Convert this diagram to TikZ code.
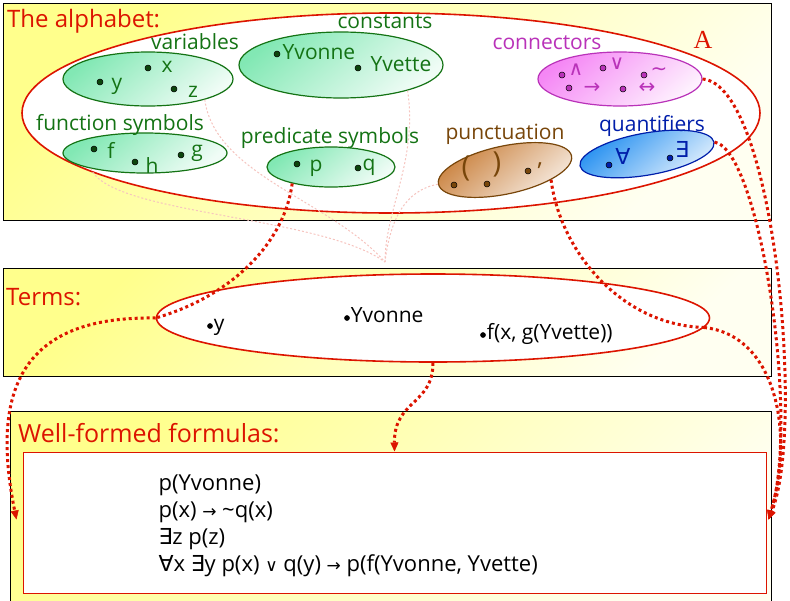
\documentclass[tikz,border=0pt]{standalone}
\usepackage{fontspec}
\setmainfont{Open Sans}
\newfontfamily\symfont{DejaVu Sans}
\newfontfamily\serfont{Liberation Serif}
\usetikzlibrary{arrows.meta}
\usetikzlibrary{calc}
\usetikzlibrary{shapes.geometric}

\definecolor{alpred}{RGB}{220,20,0}
\definecolor{panelyel}{RGB}{255,255,140}
\definecolor{grn}{RGB}{20,115,20}
\definecolor{grnfill}{RGB}{130,232,180}
\definecolor{mag}{RGB}{185,50,185}
\definecolor{magfill}{RGB}{245,135,245}
\definecolor{brn}{RGB}{120,70,10}
\definecolor{brnfill}{RGB}{200,125,55}
\definecolor{blu}{RGB}{0,30,170}
\definecolor{blufill}{RGB}{30,140,240}

\newcommand\opsym[1]{{\symfont\fontsize{17}{17}\selectfont #1}}

\tikzset{
  panel/.style={draw=black,line width=.8pt,top color=panelyel,bottom color=panelyel!12,shading angle=45},
  bigset/.style={ellipse,draw=alpred,line width=1.6pt,fill=white,inner sep=0pt},
  subset/.style 2 args={ellipse,draw=#1,line width=1.2pt,top color=#2,bottom color=#2!12,shading angle=40,inner sep=0pt},
  dotmark/.style={circle,draw=black,fill=#1,inner sep=0pt,minimum size=6pt,line width=.5pt},
  item/.style={inner sep=1pt},
  flow/.style={draw=alpred,line width=3pt,dash pattern=on 3pt off 3pt},
  flowtip/.style={flow,-{Triangle[length=9pt,width=8pt,line width=.5pt]}},
  ghost/.style={draw=alpred!25,line width=1pt,dash pattern=on 2pt off 2pt},
  head/.style={text=alpred,font=\fontsize{24}{26}\selectfont,anchor=west,inner sep=0pt}
}

\begin{document}
\begin{tikzpicture}[x=1pt,y=-1pt,font=\fontsize{21}{23}\selectfont]
\useasboundingbox (0,0) rectangle (790,600);

% the three panels
\draw[panel] (3,3) rectangle (771,220);
\draw[panel] (3,268) rectangle (771,376);
\draw[panel] (10,411) rectangle (771,612);

% alphabet
\node[bigset,minimum width=738pt,minimum height=200pt] (alph) at (391,113) {};
\node[head] (alphlbl) at (7,21) {The alphabet:};
\node[text=alpred,font=\serfont\fontsize{26}{26}\selectfont] (alphA) at (703,40) {A};

\coordinate (gmeet) at (385,262);

\node[subset={grn}{grnfill},minimum width=170pt,minimum height=54pt] (vars) at (148,79) {};
\node[subset={grn}{grnfill},minimum width=204pt,minimum height=66pt] (consts) at (341,65) {};
\node[subset={grn}{grnfill},minimum width=164pt,minimum height=40pt] (funcs) at (145,153) {};
\node[subset={grn}{grnfill},minimum width=128pt,minimum height=40pt] (preds) at (331,167) {};
\node[subset={brn}{brnfill},minimum width=136pt,minimum height=48pt,rotate=12] (punct) at (505,170) {};
\node[subset={mag}{magfill},minimum width=164pt,minimum height=54pt] (conns) at (620,79) {};
\node[subset={blu}{blufill},minimum width=136pt,minimum height=42pt,rotate=10] (quants) at (647,154) {};

% faint traces
\draw[ghost] (vars.-20) .. controls (215,175) and (330,200) .. (gmeet);
\draw[ghost] (funcs.196) .. controls (110,215) and (320,215) .. (gmeet);
\draw[ghost] (consts.-21) .. controls (418,160) and (385,210) .. (gmeet);
\draw[ghost] (punct.west) .. controls (405,190) and (390,220) .. (gmeet);

\foreach \n/\x/\y/\c/\t in {lvars/195/42/grn/variables, lconsts/385/22/grn/constants,
    lfuncs/120/125/grn/function symbols, lpreds/330/138/grn/predicate symbols,
    lpunct/505/134/brn/punctuation, lconns/547/43/mag/connectors, lquants/652/126/blu/quantifiers}
  \node[text=\c,inner sep=1pt] (\n) at (\x,\y) {\t};

\foreach \n/\x/\y/\tx/\ty/\t in {x/148/68/167/67/x, y/100/82/117/86/y, z/174/89/193/92/z,
    yvonne/277/54/319/52/Yvonne, yvette/358/68/401/64/Yvette,
    f/94/149/111/150/f, h/135/162/152/166/h, g/181/155/197/153/g,
    p/297/164/316/168/p, q/358/168/369/167/q} {
  \node[dotmark=grn!60!black] (d\n) at (\x,\y) {};
  \node[item,text=grn] (t\n) at (\tx,\ty) {\t};
}

\foreach \n/\x/\y/\tx/\ty/\t in {and/562/75/576/70/∧, or/603/68/617/64/∨, not/644/75/659/72/∼,
    imp/569/88/592/88/→, iff/623/89/647/88/↔} {
  \node[dotmark=mag] (d\n) at (\x,\y) {};
  \node[item,text=mag,font=\symfont\fontsize{20}{20}\selectfont] (t\n) at (\tx,\ty) {\t};
}

\foreach \n/\x/\y/\tx/\ty/\t in {all/609/165/623/156/∀, ex/670/158/682/149/∃} {
  \node[dotmark=blu] (d\n) at (\x,\y) {};
  \node[item,text=blu,font=\symfont\fontsize{22}{22}\selectfont] (t\n) at (\tx,\ty) {\t};
}

\foreach \n/\x/\y/\tx/\ty/\s/\t in {lpar/454/185/466/168/29/(, rpar/487/184/497/164/29/), comma/528/171/540/166/24/{,}} {
  \node[dotmark=brn] (d\n) at (\x,\y) {};
  \node[inner sep=0pt,text=brn,font=\fontsize{\s}{\s}\selectfont] (t\n) at (\tx,\ty) {\t};
}

% terms
\node[bigset,minimum width=553pt,minimum height=88pt] (terms) at (433,318) {};
\node[head] (termslbl) at (6,297) {Terms:};
\foreach \n/\x/\y/\t in {ty/210/326/y, tyv/347/318/Yvonne, tf/483/335/{f(x, g(Yvette))}} {
  \node[dotmark=black,minimum size=5pt] (\n) at (\x,\y) {};
  \node[anchor=base west,inner sep=1pt] (\n txt) at ([yshift=-4pt]\n.east) {\t};
}

% well-formed formulas
\node[head,font=\fontsize{25}{27}\selectfont] (wfflbl) at (18,433) {Well-formed formulas:};
\node[draw=alpred,fill=white,line width=1pt,minimum width=743pt,minimum height=141pt] (wffin) at (394.5,522.5) {};
\foreach \f [count=\i] in {p(Yvonne), p(x) \opsym{→} \textasciitilde q(x), {\symfont ∃}z p(z),
    {{\symfont ∀}x {\symfont ∃}y p(x) \opsym{∨} q(y) \opsym{→} p(f(Yvonne, Yvette)}}
  \node[anchor=west,font=\fontsize{22}{24}\selectfont] (wff\i) at (155,{458+27*\i}) {\f};

\coordinate (wffL) at ($(wffin.west)+(-6,-3)$);
\coordinate (wffR) at ($(wffin.east)+(2,-3)$);

% red flows
\draw[flow] (preds.203) .. controls (285,240) and (235,295) .. (terms.west);
\draw[flowtip] (terms.west) .. controls (30,316) and (-12,380) .. (wffL);
\draw[flowtip] (terms.south) .. controls (433,405) and (394,400) .. (wffin.north);
\draw[flow] (punct.-24) .. controls (560,250) and (620,325) .. (terms.-2);
\draw[flowtip] (terms.-2) .. controls (775,335) and (795,430) .. (wffR);
\draw[flowtip] (conns.east) .. controls (775,85) and (805,430) .. (wffR);
\draw[flowtip] (quants.east) .. controls (760,150) and (800,420) .. (wffR);
\end{tikzpicture}
\end{document}
